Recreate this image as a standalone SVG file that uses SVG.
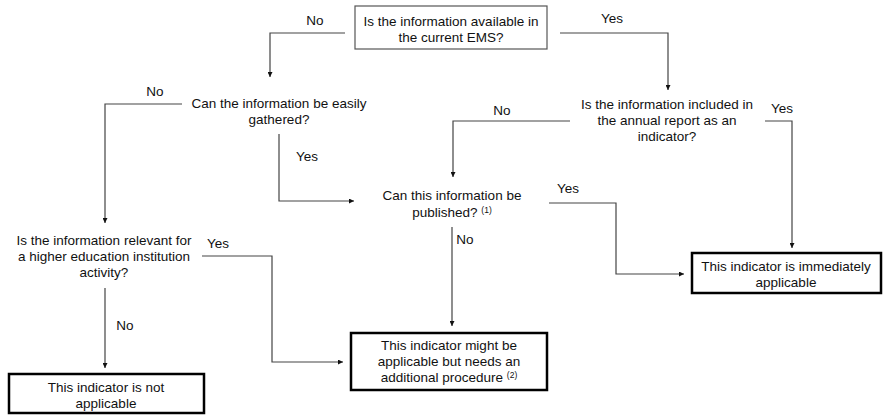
<svg xmlns="http://www.w3.org/2000/svg" width="883" height="415" viewBox="0 0 883 415">
  <defs>
    <marker id="arrow" viewBox="0 0 10 10" refX="10" refY="5" markerWidth="5" markerHeight="5" orient="auto" markerUnits="userSpaceOnUse">
      <path d="M0,0 L10,5 L0,10 z" fill="#111"/>
    </marker>
    <style>
      text { font-family: "Liberation Sans", Arial, sans-serif; font-size: 13.5px; fill: #111; }
      .c { text-anchor: middle; }
      .sup { font-size: 8.5px; }
      .conn { fill: none; stroke: #444; stroke-width: 1.2; }
      .q-box { fill: #fff; stroke: #555; stroke-width: 1.2; }
      .end-box { fill: #fff; stroke: #000; stroke-width: 2.5; }
    </style>
  </defs>
  <rect width="883" height="415" fill="#fff"/>

  <!-- connectors -->
  <g id="connectors">
    <path class="conn" d="M345,33 H270 V77" marker-end="url(#arrow)"/>
    <path class="conn" d="M560,33 H668 V90" marker-end="url(#arrow)"/>
    <path class="conn" d="M182,104 H105 V223" marker-end="url(#arrow)"/>
    <path class="conn" d="M279,134 V201 H354" marker-end="url(#arrow)"/>
    <path class="conn" d="M570,121 H453 V177" marker-end="url(#arrow)"/>
    <path class="conn" d="M765,121 H792 V248" marker-end="url(#arrow)"/>
    <path class="conn" d="M549,203 H616 V274 H684" marker-end="url(#arrow)"/>
    <path class="conn" d="M452,227 V326" marker-end="url(#arrow)"/>
    <path class="conn" d="M202,256 H272 V362 H343" marker-end="url(#arrow)"/>
    <path class="conn" d="M105,288 V368" marker-end="url(#arrow)"/>

    <text x="315" y="25" class="c">No</text>
    <text x="612" y="23" class="c">Yes</text>
    <text x="155" y="96" class="c">No</text>
    <text x="307" y="161" class="c">Yes</text>
    <text x="502" y="115" class="c">No</text>
    <text x="782" y="113" class="c">Yes</text>
    <text x="568" y="193" class="c">Yes</text>
    <text x="465" y="244" class="c">No</text>
    <text x="218" y="248" class="c">Yes</text>
    <text x="125" y="330" class="c">No</text>
  </g>

  <!-- decision nodes -->
  <g id="q-ems">
    <rect class="q-box" x="355" y="6" width="192" height="43"/>
    <text x="451" y="26" class="c">Is the information available in</text>
    <text x="451" y="42" class="c">the current EMS?</text>
  </g>

  <g id="q-gathered">
    <text x="279" y="108" class="c">Can the information be easily</text>
    <text x="279" y="124" class="c">gathered?</text>
  </g>

  <g id="q-annual">
    <text x="667" y="108.5" class="c">Is the information included in</text>
    <text x="667" y="124.5" class="c">the annual report as an</text>
    <text x="667" y="140.5" class="c">indicator?</text>
  </g>

  <g id="q-published">
    <text x="452" y="200" class="c">Can this information be</text>
    <text x="452" y="217" class="c">published? <tspan class="sup" dy="-4">(1)</tspan></text>
  </g>

  <g id="q-relevant">
    <text x="104" y="245" class="c">Is the information relevant for</text>
    <text x="104" y="261" class="c">a higher education institution</text>
    <text x="104" y="277" class="c">activity?</text>
  </g>

  <!-- outcome nodes -->
  <g id="end-immediate">
    <rect class="end-box" x="692" y="253" width="189" height="40"/>
    <text x="786" y="271" class="c">This indicator is immediately</text>
    <text x="786" y="287" class="c">applicable</text>
  </g>

  <g id="end-procedure">
    <rect class="end-box" x="351" y="333" width="196" height="57"/>
    <text x="449" y="350" class="c">This indicator might be</text>
    <text x="449" y="366" class="c">applicable but needs an</text>
    <text x="449" y="382" class="c">additional procedure <tspan class="sup" dy="-4">(2)</tspan></text>
  </g>

  <g id="end-not">
    <rect class="end-box" x="9" y="374" width="195" height="39"/>
    <text x="106" y="392" class="c">This indicator is not</text>
    <text x="106" y="408" class="c">applicable</text>
  </g>
</svg>
